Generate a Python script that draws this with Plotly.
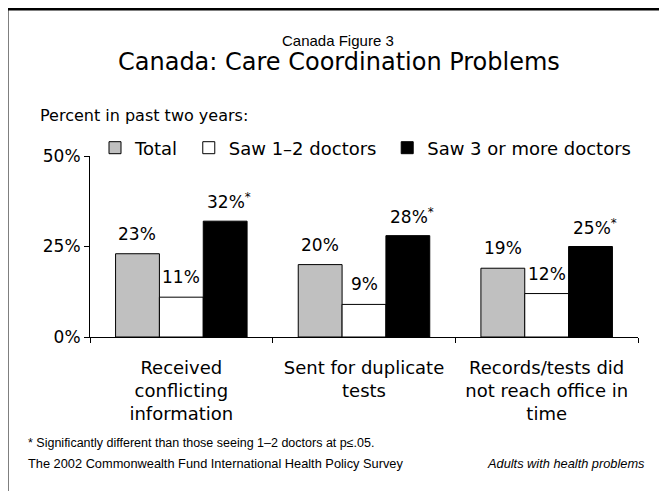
import plotly.graph_objects as go

# data
categories = [
    "Received<br>conflicting<br>information",
    "Sent for duplicate<br>tests",
    "Records/tests did<br>not reach office in<br>time",
]
series_names = ["Total\u00a0", "Saw 1\u20132 doctors\u00a0", "Saw 3 or more doctors"]
total = [23, 20, 19]
saw_1_2 = [11, 9, 12]
saw_3_plus = [32, 28, 25]
# significantly different vs. 1-2 doctors
star_3_plus = [True, True, True]
tick_vals = [0, 25, 50]
tick_text = ["0%", "25%", "50%"]

FONT = "DejaVu Sans"
FOOT = "Liberation Sans"

# page has an 8px body margin, so work in window pixels and subtract it
OFF = 8
W, H = 667 - OFF, 491 - OFF
L, R, T, B = 90 - OFF, 638 - OFF, 156 - OFF, 337 - OFF


def px_x(p):
    return (p - OFF - L) / (R - L)


def px_y(p):
    return (B - (p - OFF)) / (B - T)


series = [
    (series_names[0], total, "#c0c0c0", [False] * 3),
    (series_names[1], saw_1_2, "#ffffff", [False] * 3),
    (series_names[2], saw_3_plus, "#000000", star_3_plus),
]

fig = go.Figure()
for name, vals, color, _ in series:
    fig.add_trace(go.Bar(
        name=name,
        x=categories,
        y=vals,
        marker=dict(color=color, line=dict(color="black", width=1)),
    ))

bargap = 0.28
bar_px = (R - L) / len(categories) * (1 - bargap) / len(series)

annotations = []
for i, (name, vals, color, stars) in enumerate(series):
    for cat, v, s in zip(categories, vals, stars):
        annotations.append(dict(
            x=cat, y=v, xref="x", yref="y",
            text=f"{v}%<sup>*</sup>" if s else f"{v}%",
            showarrow=False, yanchor="middle",
            xshift=(i - 1) * bar_px + (4 if s else 0), yshift=20,
            font=dict(family=FONT, size=17, color="black"),
        ))

annotations += [
    dict(x=px_x(338), y=px_y(40), xref="paper", yref="paper",
         text="Canada Figure 3", showarrow=False, xanchor="center", yanchor="middle",
         font=dict(family=FOOT, size=15, color="black")),
    dict(x=px_x(339), y=px_y(62), xref="paper", yref="paper",
         text="Canada: Care Coordination Problems", showarrow=False,
         xanchor="center", yanchor="middle",
         font=dict(family=FONT, size=24, color="black")),
    dict(x=px_x(38), y=px_y(116), xref="paper", yref="paper",
         text="Percent in past two years:", showarrow=False,
         xanchor="left", yanchor="middle",
         font=dict(family=FONT, size=16, color="black")),
    dict(x=px_x(26), y=px_y(443), xref="paper", yref="paper",
         text="* Significantly different than those seeing 1\u20132 doctors at p\u2264.05.",
         showarrow=False, xanchor="left", yanchor="middle",
         font=dict(family=FOOT, size=12.5, color="black")),
    dict(x=px_x(26), y=px_y(463), xref="paper", yref="paper",
         text="The 2002 Commonwealth Fund International Health Policy Survey",
         showarrow=False, xanchor="left", yanchor="middle",
         font=dict(family=FOOT, size=12.8, color="black")),
    dict(x=px_x(647), y=px_y(463), xref="paper", yref="paper",
         text="<i>Adults with health problems</i>",
         showarrow=False, xanchor="right", yanchor="middle",
         font=dict(family=FOOT, size=12.8, color="black")),
]

fig.update_layout(
    width=W, height=H, autosize=False,
    margin=dict(l=L, r=W - R, t=T, b=H - B, pad=0),
    paper_bgcolor="white", plot_bgcolor="white",
    barmode="group", bargap=bargap, bargroupgap=0,
    font=dict(family=FONT, size=17, color="black"),
    showlegend=True,
    legend=dict(
        orientation="h", x=px_x(95), y=px_y(148),
        xanchor="left", yanchor="middle",
        font=dict(family=FONT, size=18, color="black"),
        bgcolor="rgba(0,0,0,0)", itemclick=False,
    ),
    xaxis=dict(
        showline=True, linecolor="black", linewidth=1,
        ticks="outside", tickson="boundaries", ticklen=5, tickcolor="black",
        showgrid=False, zeroline=False,
        tickfont=dict(family=FONT, size=18, color="black"),
        ticklabelstandoff=14,
    ),
    yaxis=dict(
        range=[0, 50], tickvals=tick_vals, ticktext=tick_text,
        showline=True, linecolor="black", linewidth=1,
        ticks="outside", ticklen=5, tickcolor="black",
        showgrid=False, zeroline=False,
        tickfont=dict(family=FONT, size=17, color="black"),
    ),
    annotations=annotations,
    shapes=[dict(
        type="rect", xref="paper", yref="paper",
        x0=px_x(7), x1=px_x(720), y0=px_y(9), y1=px_y(560),
        line=dict(color="black", width=3), fillcolor="rgba(0,0,0,0)",
    )],
)

fig.write_html("out.html")
